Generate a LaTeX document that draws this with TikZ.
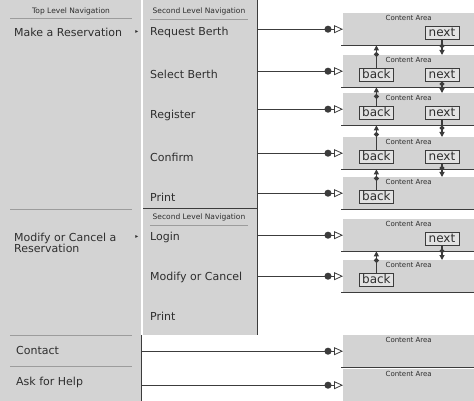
\documentclass[tikz,border=0pt]{standalone}
\usepackage{fontspec}
\setmainfont{DejaVu Sans}
\usepackage{tikz}
\usetikzlibrary{positioning,arrows.meta}
\definecolor{PanelGray}{HTML}{D3D3D3}
\definecolor{EdgeDark}{HTML}{3C3C3C}
\definecolor{GrooveGray}{HTML}{9C9C9C}
\definecolor{InkGray}{HTML}{2E2E2E}
\definecolor{BtnFace}{HTML}{E2E2E2}

\begin{document}
\begin{tikzpicture}[x=1pt,y=-1pt,>=Latex]
  \tikzstyle{panel}=[fill=PanelGray,inner sep=0pt,anchor=north west]
  \tikzstyle{navhead}=[font=\fontsize{7.5}{8}\selectfont,text=InkGray,inner sep=0pt]
  \tikzstyle{navitem}=[font=\fontsize{11}{11}\selectfont,text=InkGray,anchor=west,
    inner sep=0pt,align=left]
  \tikzstyle{submark}=[font=\fontsize{6}{6}\selectfont,text=InkGray,inner sep=0pt]
  \tikzstyle{groove}=[draw=GrooveGray,line width=1pt]
  \tikzstyle{edge}=[draw=EdgeDark,line width=1.6pt]
  \tikzstyle{area}=[fill=PanelGray,inner sep=0pt,anchor=north west,
    minimum width=131pt,minimum height=32pt,
    label={[anchor=north,inner sep=2pt,font=\fontsize{7}{8}\selectfont,text=InkGray]north:Content Area}]
  \tikzstyle{btn}=[fill=BtnFace,draw=EdgeDark,line width=0.8pt,inner sep=0pt,
    minimum width=34pt,minimum height=13pt,font=\fontsize{12}{12}\selectfont,text=InkGray]
  \tikzstyle{link}=[draw=EdgeDark,line width=1.1pt,
    -{Circle[length=7pt,sep=2.5pt]Triangle[open,length=9pt,width=8pt,line width=0.8pt]}]
  \tikzstyle{flip}=[draw=EdgeDark,line width=1.1pt,
    -{Circle[length=5pt,sep=1.5pt]Triangle[length=5pt,width=5pt]}]
  \useasboundingbox (0,0) rectangle (474,401);

  % navigation panels
  \node[panel,minimum width=141pt,minimum height=401pt] (topnav) at (0,0) {};
  \node[panel,minimum width=114pt,minimum height=208pt] (sub1) at (143,0) {};
  \node[panel,minimum width=114pt,minimum height=126pt] (sub2) at (143,209) {};
  \draw[edge] (sub1.north east) -- (sub1.south east) -- (sub1.south west);
  \draw[edge] (sub2.north east) -- (sub2.south east);
  \draw[edge] (topnav.east |- sub2.south) -- (topnav.south east);

  \node[navhead] (tophead) at (71,11) {Top Level Navigation};
  \draw[groove] (10,19) -- (132,19);
  \node[navhead] (sub1head) at (199,11) {Second Level Navigation};
  \draw[groove] (150,20) -- (248,20);
  \node[navhead] (sub2head) at (199,217) {Second Level Navigation};
  \draw[groove] (150,225) -- (248,225);

  % top level
  \node[navitem] (reserve) at (14,32) {Make a Reservation};
  \node[submark] (reservemark) at (137,32) {▸};
  \draw[groove] (10,209) -- (132,209);
  \node[navitem] (modify) at (14,242.5) {Modify or Cancel a\\Reservation};
  \node[submark] (modifymark) at (137,237) {▸};
  \draw[groove] (10,335) -- (132,335);
  \node[navitem] (contact) at (16,350) {Contact};
  \draw[groove] (10,366) -- (132,366);
  \node[navitem] (askhelp) at (16,382) {Ask for Help};

  % second level
  \node[navitem] (request) at (150,32) {Request Berth};
  \node[navitem] (select) at (150,74) {Select Berth};
  \node[navitem] (register) at (150,115) {Register};
  \node[navitem] (confirm) at (150,157) {Confirm};
  \node[navitem] (print) at (150,197) {Print};
  \node[navitem] (login) at (150,237) {Login};
  \node[navitem] (modcancel) at (150,277) {Modify or Cancel};
  \node[navitem] (reprint) at (150,316) {Print};

  % content areas
  \node[area] (ca1) at (343,13) {};
  \node[area] (ca2) at (343,55) {};
  \node[area] (ca3) at (343,93) {};
  \node[area] (ca4) at (343,137) {};
  \node[area] (ca5) at (343,177) {};
  \node[area] (ca6) at (343,219) {};
  \node[area] (ca7) at (343,260) {};
  \node[area] (ca8) at (343,335) {};
  \node[area] (ca9) at (343,369) {};
  \draw[edge] ([xshift=-2pt]ca1.south west) -- (ca1.south east);
  \draw[edge] ([xshift=-2pt]ca2.south west) -- (ca2.south east);
  \draw[edge] ([xshift=-2pt]ca3.south west) -- (ca3.south east);
  \draw[edge] ([xshift=-2pt]ca4.south west) -- (ca4.south east);
  \draw[edge] ([xshift=-2pt]ca5.south west) -- (ca5.south east);
  \draw[edge] ([xshift=-2pt]ca6.south west) -- (ca6.south east);
  \draw[edge] ([xshift=-2pt]ca7.south west) -- (ca7.south east);
  \draw[edge] ([xshift=-2pt]ca8.south west) -- (ca8.south east);

  % buttons
  \node[btn,anchor=south east] (next1) at ([xshift=-15pt,yshift=6pt]ca1.south east) {next};
  \node[btn,anchor=south west] (back2) at ([xshift=16pt,yshift=6pt]ca2.south west) {back};
  \node[btn,anchor=south east] (next2) at ([xshift=-15pt,yshift=6pt]ca2.south east) {next};
  \node[btn,anchor=south west] (back3) at ([xshift=16pt,yshift=6pt]ca3.south west) {back};
  \node[btn,anchor=south east] (next3) at ([xshift=-15pt,yshift=6pt]ca3.south east) {next};
  \node[btn,anchor=south west] (back4) at ([xshift=16pt,yshift=6pt]ca4.south west) {back};
  \node[btn,anchor=south east] (next4) at ([xshift=-15pt,yshift=6pt]ca4.south east) {next};
  \node[btn,anchor=south west] (back5) at ([xshift=16pt,yshift=6pt]ca5.south west) {back};
  \node[btn,anchor=south east] (next6) at ([xshift=-15pt,yshift=6pt]ca6.south east) {next};
  \node[btn,anchor=south west] (back7) at ([xshift=16pt,yshift=6pt]ca7.south west) {back};

  % page flow
  \draw[flip] (next1.south) -- (next1.south |- ca2.north);
  \draw[flip] (back2.north) -- (back2.north |- ca1.south);
  \draw[flip] (next2.south) -- (next2.south |- ca3.north);
  \draw[flip] (back3.north) -- (back3.north |- ca2.south);
  \draw[flip] (next3.south) -- (next3.south |- ca4.north);
  \draw[flip] (back4.north) -- (back4.north |- ca3.south);
  \draw[flip] (next4.south) -- (next4.south |- ca5.north);
  \draw[flip] (back5.north) -- (back5.north |- ca4.south);
  \draw[flip] (next6.south) -- (next6.south |- ca7.north);
  \draw[flip] (back7.north) -- (back7.north |- ca6.south);

  % navigation links
  \draw[link] (ca1.west -| sub1.east) -- (ca1.west);
  \draw[link] (ca2.west -| sub1.east) -- (ca2.west);
  \draw[link] (ca3.west -| sub1.east) -- (ca3.west);
  \draw[link] (ca4.west -| sub1.east) -- (ca4.west);
  \draw[link] (ca5.west -| sub1.east) -- (ca5.west);
  \draw[link] (ca6.west -| sub2.east) -- (ca6.west);
  \draw[link] (ca7.west -| sub2.east) -- (ca7.west);
  \draw[link] (ca8.west -| topnav.east) -- (ca8.west);
  \draw[link] (ca9.west -| topnav.east) -- (ca9.west);
\end{tikzpicture}
\end{document}
